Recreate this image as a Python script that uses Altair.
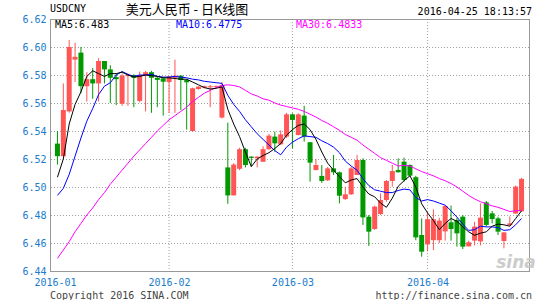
import altair as alt
import pandas as pd

# ---------------- data ----------------
idx = list(range(80))
opens = [6.531, 6.522, 6.554, 6.591, 6.596, 6.572, 6.577, 6.574, 6.590, 6.584,
         6.5785, 6.5595, 6.5792, 6.580, 6.5615, 6.580, 6.582, 6.578, 6.5776, 6.575,
         6.578, 6.5795, 6.5764, 6.540, 6.570, 6.571, 6.5712, 6.5715, 6.5496, 6.514,
         6.494, 6.513, 6.527, 6.5217, 6.5205, 6.518, 6.527, 6.536, 6.5305, 6.536,
         6.5519, 6.5371, 6.551, 6.532, 6.5121, 6.5079, 6.5048, 6.5133, 6.5105, 6.4914,
         6.4948, 6.5086, 6.5193, 6.4788, 6.470, 6.4807, 6.4907, 6.5043, 6.5121, 6.5181,
         6.5157, 6.507, 6.4657, 6.459, 6.462, 6.462, 6.4683, 6.4748, 6.4764, 6.4788,
         6.4576, 6.4617, 6.4612, 6.489, 6.4812, 6.4776, 6.4614, 6.4728, 6.481, 6.4826]
highs = [6.540, 6.574, 6.605, 6.603, 6.600, 6.582, 6.585, 6.592, 6.590, 6.587,
         6.581, 6.581, 6.581, 6.5805, 6.5825, 6.583, 6.583, 6.579, 6.578, 6.579,
         6.591, 6.580, 6.577, 6.571, 6.572, 6.5725, 6.573, 6.5725, 6.575, 6.546,
         6.517, 6.528, 6.528, 6.522, 6.522, 6.529, 6.538, 6.5395, 6.5405, 6.553,
         6.5526, 6.5526, 6.558, 6.532, 6.520, 6.5157, 6.5143, 6.5229, 6.511, 6.5002,
         6.5143, 6.5229, 6.5205, 6.480, 6.4867, 6.4955, 6.505, 6.5157, 6.5205, 6.521,
         6.5162, 6.508, 6.4776, 6.482, 6.484, 6.478, 6.487, 6.4867, 6.478, 6.480,
         6.4617, 6.4752, 6.4883, 6.490, 6.4829, 6.4788, 6.4676, 6.479, 6.501, 6.5065]
lows = [6.516, 6.522, 6.553, 6.575, 6.567, 6.561, 6.563, 6.561, 6.574, 6.560,
        6.5585, 6.558, 6.558, 6.557, 6.5605, 6.554, 6.553, 6.557, 6.551, 6.553,
        6.553, 6.555, 6.541, 6.5395, 6.5695, 6.5705, 6.557, 6.571, 6.549, 6.488,
        6.494, 6.512, 6.514, 6.515, 6.514, 6.518, 6.5265, 6.5252, 6.530, 6.535,
        6.5276, 6.537, 6.5324, 6.5038, 6.512, 6.5029, 6.5043, 6.5086, 6.4883, 6.4907,
        6.4943, 6.5086, 6.4729, 6.4579, 6.4693, 6.480, 6.4895, 6.5002, 6.5105, 6.5038,
        6.5074, 6.462, 6.4502, 6.454, 6.455, 6.460, 6.4617, 6.4617, 6.4574, 6.4557,
        6.4576, 6.4583, 6.4583, 6.4717, 6.474, 6.4657, 6.4562, 6.472, 6.481, 6.4826]
closes = [6.522, 6.555, 6.600, 6.593, 6.572, 6.577, 6.574, 6.590, 6.584, 6.578,
          6.577, 6.5795, 6.580, 6.578, 6.580, 6.582, 6.578, 6.5765, 6.5752, 6.579,
          6.5795, 6.5764, 6.5748, 6.5705, 6.5717, 6.572, 6.572, 6.5722, 6.5727, 6.494,
          6.516, 6.527, 6.5157, 6.5208, 6.5217, 6.527, 6.5367, 6.5312, 6.5376, 6.5519,
          6.5479, 6.5519, 6.536, 6.5174, 6.5157, 6.5043, 6.5133, 6.5105, 6.4938, 6.4948,
          6.5133, 6.5193, 6.4783, 6.4681, 6.486, 6.4907, 6.5043, 6.5114, 6.5105, 6.505,
          6.5081, 6.464, 6.4538, 6.477, 6.477, 6.476, 6.4864, 6.470, 6.4669, 6.4574,
          6.4605, 6.4717, 6.4781, 6.4729, 6.4771, 6.4681, 6.4676, 6.474, 6.5003, 6.5058]
ma5 = [6.507, 6.520, 6.545, 6.559, 6.568, 6.579, 6.583, 6.581, 6.579, 6.581,
       6.581, 6.582, 6.580, 6.5785, 6.579, 6.580, 6.5795, 6.579, 6.578, 6.578,
       6.5775, 6.577, 6.577, 6.575, 6.573, 6.571, 6.570, 6.5705, 6.5715, 6.5555,
       6.545, 6.536, 6.525, 6.5145, 6.520, 6.5225, 6.5245, 6.5275, 6.531, 6.537,
       6.541, 6.544, 6.545, 6.541, 6.534, 6.525, 6.517, 6.512, 6.5075, 6.503,
       6.505, 6.506, 6.500, 6.495, 6.493, 6.4885, 6.4855, 6.492, 6.5005, 6.5045,
       6.508, 6.500, 6.488, 6.4815, 6.476, 6.4695, 6.474, 6.4775, 6.4755, 6.4715,
       6.468, 6.4655, 6.467, 6.468, 6.472, 6.4735, 6.473, 6.472, 6.4775, 6.483]
ma10 = [6.494, 6.499, 6.509, 6.522, 6.535, 6.547, 6.556, 6.566, 6.572, 6.5745,
        6.580, 6.5825, 6.5805, 6.579, 6.580, 6.580, 6.5805, 6.579, 6.5785, 6.5785,
        6.579, 6.5785, 6.578, 6.577, 6.5765, 6.5755, 6.575, 6.5745, 6.574, 6.5655,
        6.559, 6.554, 6.548, 6.543, 6.538, 6.534, 6.530, 6.526, 6.523, 6.5285,
        6.532, 6.5345, 6.5365, 6.536, 6.5355, 6.533, 6.531, 6.5285, 6.5245, 6.5185,
        6.515, 6.512, 6.506, 6.501, 6.498, 6.497, 6.496, 6.496, 6.4975, 6.4985,
        6.498, 6.4925, 6.490, 6.491, 6.490, 6.4885, 6.487, 6.483, 6.4785, 6.4735,
        6.469, 6.4695, 6.472, 6.4715, 6.4715, 6.471, 6.469, 6.4695, 6.473, 6.4775]
ma30 = [6.449, 6.455, 6.461, 6.468, 6.474, 6.480, 6.485, 6.491, 6.496, 6.502,
        6.507, 6.512, 6.517, 6.522, 6.5265, 6.531, 6.5355, 6.540, 6.544, 6.548,
        6.551, 6.554, 6.557, 6.561, 6.564, 6.567, 6.569, 6.571, 6.5725, 6.573,
        6.5725, 6.5715, 6.569, 6.5665, 6.565, 6.563, 6.562, 6.560, 6.5585, 6.5575,
        6.5565, 6.5555, 6.554, 6.552, 6.550, 6.5475, 6.5455, 6.543, 6.5405, 6.5375,
        6.5355, 6.5335, 6.530, 6.527, 6.524, 6.521, 6.519, 6.517, 6.515, 6.5155,
        6.515, 6.513, 6.511, 6.5095, 6.508, 6.506, 6.5045, 6.5025, 6.500, 6.497,
        6.494, 6.4915, 6.4895, 6.488, 6.4865, 6.4855, 6.484, 6.4825, 6.483, 6.4833]

month_labels = ["2016-01", "2016-02", "2016-03", "2016-04"]
month_pos = [-0.4167, 19, 40, 63]
y_ticks = [6.44, 6.46, 6.48, 6.50, 6.52, 6.54, 6.56, 6.58, 6.60, 6.62]
legend_labels = ["MA5:6.483", "MA10:6.4775", "MA30:6.4833"]
symbol = "USDCNY"
title_cn = "美元人民币 - 日K线图"
timestamp = "2016-04-25 18:13:57"
footer_left = "Copyright 2016 SINA.COM"
footer_right = "http://finance.sina.com.cn"
watermark = "sina"

# ---------------- styles ----------------
RED = "#FF5555"
GREEN = "#009900"
AXBLUE = "#1a7ccc"
MONO = "DejaVu Sans Mono"
GRID = "#a0a0a0"
FRAME = "#999999"
W, H = 479, 252

df = pd.DataFrame(dict(i=idx, open=opens, high=highs, low=lows, close=closes,
                       ma5=ma5, ma10=ma10, ma30=ma30))

xscale = alt.Scale(domain=[-0.4167, 79.4167], nice=False, zero=False)
yscale = alt.Scale(domain=[6.44, 6.62], nice=False, zero=False)

label_expr = "''"
for p, lab in reversed(list(zip(month_pos, month_labels))):
    label_expr = f"abs(datum.value - ({p})) < 0.5 ? '{lab}' : " + label_expr

x_axis = alt.Axis(values=month_pos, labelExpr=label_expr, grid=False, domain=False,
                  ticks=False, labelFlush=False, labelOverlap=False,
                  labelColor=AXBLUE, labelFont=MONO, labelFontSize=10,
                  labelPadding=6, title=None)
y_axis = alt.Axis(values=y_ticks, format=".2f", grid=False, domain=False, ticks=False,
                  labelColor=AXBLUE, labelFont=MONO, labelFontSize=10,
                  labelPadding=4, title=None)

X = alt.X("i:Q", scale=xscale, axis=x_axis)

def Y(field):
    return alt.Y(f"{field}:Q", scale=yscale, axis=y_axis)

color_cond = alt.condition("datum.close >= datum.open", alt.value(RED), alt.value(GREEN))

# dotted grid lines through the scales
hgrid = alt.Chart(pd.DataFrame({"v": y_ticks})).mark_rule(
    strokeWidth=1, strokeDash=[1, 2], yOffset=0.5, opacity=1
).encode(y=alt.Y("v:Q", scale=yscale, axis=y_axis), color=alt.value(GRID))
vgrid = alt.Chart(pd.DataFrame({"m": month_pos[1:]})).mark_rule(
    strokeWidth=1, strokeDash=[1, 2], opacity=1
).encode(x=alt.X("m:Q", scale=xscale, axis=x_axis), color=alt.value(GRID))

# frame edges as thin filled rectangles
def edge(x, x2, y, y2):
    return alt.Chart(pd.DataFrame({"k": [0]})).mark_rect(
        color=FRAME, opacity=1
    ).encode(x=alt.value(x), x2=alt.value(x2), y=alt.value(y), y2=alt.value(y2))

frame = [
    edge(0, W + 1, 0, 1),
    edge(0, W + 1, H, H + 1),
    edge(0, 1, 0, H + 1),
    edge(W, W + 1, 0, H + 1),
]

base = alt.Chart(df)
wicks = base.mark_rule(strokeWidth=1).encode(
    x=X, y=Y("low"), y2="high:Q", color=color_cond,
)
bodies = base.mark_bar(size=5).encode(
    x=X, y=Y("open"), y2="close:Q", color=color_cond,
)

def ma_line(field, col):
    return base.mark_line(strokeWidth=1).encode(x=X, y=Y(field), color=alt.value(col))

l30 = ma_line("ma30", "#FF00FF")
l10 = ma_line("ma10", "#0000FF")
l5 = ma_line("ma5", "#000000")

def label(txt, x, y, align="left", color="#000000", size=10, font=MONO, **kw):
    return alt.Chart(pd.DataFrame({"k": [0]})).mark_text(
        text=txt, x=x, y=y, align=align, baseline="middle", font=font,
        fontSize=size, color=color, **kw
    ).encode(opacity=alt.value(1))

texts = [
    label(symbol, 0, -10),
    label(title_cn, 137, -9, align="center", size=13, font="Noto Sans CJK SC"),
    label(timestamp, 482, -7, align="right"),
    label(legend_labels[0], 5, 6),
    label(legend_labels[1], 126, 6, color="#0000FF"),
    label(legend_labels[2], 246, 6, color="#FF00FF"),
    label(footer_left, 0, 277, color="#444444"),
    label(footer_right, 482, 277, align="right", color="#444444"),
    label(watermark, 466, 244, align="center", color="#cccccc", size=17,
          font="DejaVu Sans", fontStyle="italic", fontWeight="bold"),
]

chart = alt.layer(hgrid, vgrid, wicks, bodies, l30, l10, l5, *frame,
                  *texts).properties(
    width=W, height=H,
    autosize=alt.AutoSizeParams(type="none"),
    padding={"left": 50, "top": 19, "right": 16, "bottom": 29},
    background="white",
).configure_view(strokeWidth=0)

chart.save("out.html", embed_options={"renderer": "svg", "actions": False})
